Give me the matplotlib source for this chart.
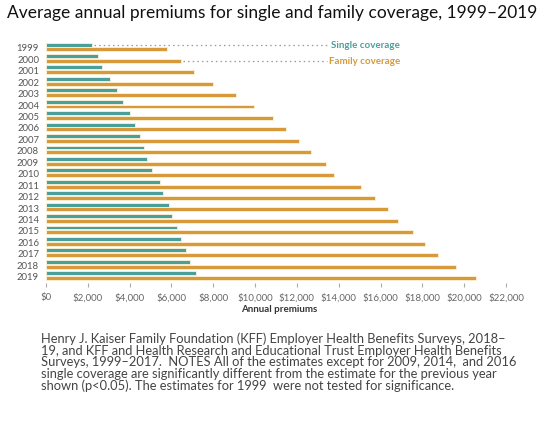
import numpy as np
import matplotlib
matplotlib.use("Agg")
import matplotlib.pyplot as plt

years = list(range(1999, 2020))
single = [2196, 2471, 2689, 3083, 3383, 3695, 4024, 4242, 4479, 4704, 4824,
          5049, 5429, 5615, 5884, 6025, 6251, 6435, 6690, 6896, 7188]
family = [5791, 6438, 7061, 8003, 9068, 9950, 10880, 11480, 12106, 12680, 13375,
          13770, 15073, 15745, 16351, 16834, 17545, 18142, 18764, 19616, 20576]
xticks = list(range(0, 22001, 2000))
xlabels = ["$0"] + ["${:,}".format(v) for v in xticks[1:]]

title = "Average annual premiums for single and family coverage, 1999\u20132019"
caption = [
    "Henry J. Kaiser Family Foundation (KFF) Employer Health Benefits Surveys, 2018\u2013",
    "19, and KFF and Health Research and Educational Trust Employer Health Benefits",
    "Surveys, 1999\u20132017.  NOTES All of the estimates except for 2009, 2014,  and 2016",
    "single coverage are significantly different from the estimate for the previous year",
    "shown (p<0.05). The estimates for 1999  were not tested for significance.",
]

TEAL = "#4b9f9b"
ORANGE = "#d8993a"
HALO = "#fcf3d8"

plt.rcParams["font.family"] = ["Lato", "DejaVu Sans"]

W, H = 545, 427
fig = plt.figure(figsize=(5.45, 4.27), dpi=100)
ax = fig.add_axes([46 / W, (H - 283.5) / H, (506 - 46) / W, 242.4 / H])

y = np.arange(len(years))
off = 0.21
bh = 0.34
ax.barh(y - off, single, height=bh, color=TEAL, edgecolor=HALO, linewidth=0.6, zorder=3)
ax.barh(y + off, family, height=bh, color=ORANGE, edgecolor=HALO, linewidth=0.6, zorder=3)

ax.set_xlim(0, 22000)
ax.set_ylim(len(years) - 0.4, -0.6)
ax.set_yticks(y)
ax.set_yticklabels([str(v) for v in years], fontsize=6.8, color="#555555")
ax.tick_params(axis="y", length=0, pad=5)
ax.set_xticks(xticks)
ax.set_xticklabels(xlabels, fontsize=7, color="#666666")
ax.tick_params(axis="x", length=3, color="#aaaaaa", pad=4)
for s in ax.spines.values():
    s.set_visible(False)

# legend as dotted leader lines
xl_end = 13500
ax.plot([single[0] + 120, xl_end], [0 - off, 0 - off], ls=(0, (1.2, 2.5)),
        color="#999999", lw=0.9, zorder=2)
ax.plot([family[1] + 120, xl_end - 80], [1 + off, 1 + off], ls=(0, (1.2, 2.5)),
        color="#999999", lw=0.9, zorder=2)
ax.text(xl_end + 120, 0 - off, "Single coverage", color=TEAL, fontsize=7,
        fontweight="bold", va="center", ha="left")
ax.text(xl_end + 40, 1 + off, "Family coverage", color=ORANGE, fontsize=7,
        fontweight="bold", va="center", ha="left")

fig.text(279 / W, 1 - 310 / H, "Annual premiums", fontsize=7, fontweight="bold",
         color="#333333", ha="center", va="center")

fig.text(7 / W, 1 - 13 / H, title, fontsize=12.5, color="#111111",
         ha="left", va="center")

for i, line in enumerate(caption):
    fig.text(41 / W, 1 - (339 + i * 11.7) / H, line, fontsize=9.25,
             color="#444444", ha="left", va="center")

fig.savefig("out.png", dpi=100)
